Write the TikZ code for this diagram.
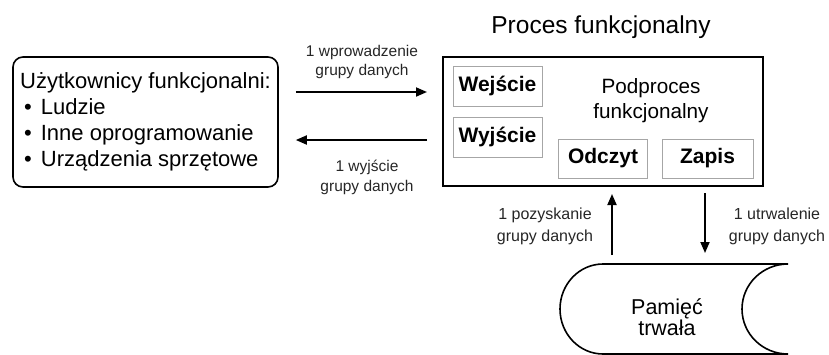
\documentclass[tikz,border=0pt]{standalone}
\usepackage{fontspec}
\setmainfont{Liberation Sans}
\usetikzlibrary{arrows.meta}
\usetikzlibrary{positioning}

\tikzset{
  subbox/.style={draw=black!35, line width=0.8pt, minimum width=89pt, minimum height=40pt, inner sep=0pt, font=\fontsize{21}{25}\selectfont\bfseries},
  flow/.style={line width=1.8pt, -{Triangle[length=11pt,width=9pt]}},
  lbl/.style={align=center, inner sep=0pt, text=black!85},
}

\begin{document}
\begin{tikzpicture}[x=1pt,y=-1pt]
    \useasboundingbox (0,0) rectangle (829,354);

    % Uzytkownicy funkcjonalni
    \node[draw, rounded corners=10pt, line width=1.6pt, minimum width=265pt, minimum height=130pt,
          align=left, inner sep=0pt, font=\fontsize{22}{26}\selectfont] (users) at (145.5,122)
        {Użytkownicy funkcjonalni:\\
         \hspace*{4pt}\textbullet\hspace{9pt}Ludzie\\
         \hspace*{4pt}\textbullet\hspace{9pt}Inne oprogramowanie\\
         \hspace*{4pt}\textbullet\hspace{9pt}Urządzenia sprzętowe};

    % Proces funkcjonalny
    \node[draw, line width=2pt, minimum width=320pt, minimum height=129pt] (proc) at (603,121.5) {};
    \node[font=\fontsize{24.5}{28}\selectfont] (title) at (601,27) {Proces funkcjonalny};
    \node[subbox] (wej) at (497.5,86) {Wejście};
    \node[subbox] (wyj) at (497.5,137) {Wyjście};
    \node[subbox, minimum height=39pt] (odczyt) at (603,158.5) {Odczyt};
    \node[subbox, minimum height=39pt, minimum width=91pt] (zapis) at (707.5,158.5) {Zapis};
    \node[align=center, font=\fontsize{20.7}{25}\selectfont] (sub) at (651,100.5) {Podproces\\funkcjonalny};

    % Pamiec trwala
    \draw[line width=1.6pt] (603,264) -- (788,264)
        arc[start angle=90, end angle=270, x radius=46pt, y radius=45pt] -- (603,354)
        arc[start angle=270, end angle=90, x radius=43pt, y radius=45pt] -- cycle;
    \node[align=center, font=\fontsize{21.5}{20}\selectfont] (store) at (667,317) {Pamięć\\trwała};
    \coordinate (rd) at (612,264);
    \coordinate (wr) at (705,264);

    % Przeplywy
    \draw[flow, shorten <=17pt, shorten >=15pt] ([yshift=30pt]users.east) -- ([yshift=29.5pt]proc.west);
    \draw[flow, shorten <=15pt, shorten >=17pt] ([yshift=-18.5pt]proc.west) -- ([yshift=-18pt]users.east);
    \draw[flow, shorten <=9pt, shorten >=7pt] (rd) -- (rd |- proc.south);
    \draw[flow, shorten <=6pt, shorten >=11pt] (wr |- proc.south) -- (wr);

    % Etykiety
    \node[lbl, font=\fontsize{15.5}{19}\selectfont] (inlbl) at (362,61.5) {1 wprowadzenie\\grupy danych};
    \node[lbl, font=\fontsize{15.5}{20}\selectfont] (outlbl) at (367,177) {1 wyjście\\grupy danych};
    \node[lbl, font=\fontsize{16}{22}\selectfont] (rdlbl) at (545,226) {1 pozyskanie\\grupy danych};
    \node[lbl, font=\fontsize{16}{22}\selectfont] (wrlbl) at (777,226) {1 utrwalenie\\grupy danych};
\end{tikzpicture}
\end{document}
